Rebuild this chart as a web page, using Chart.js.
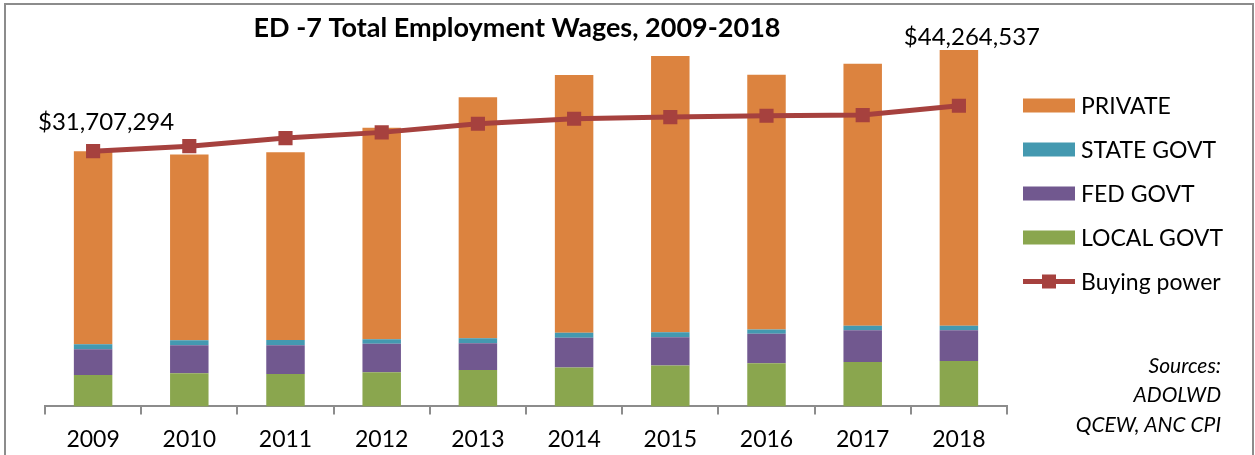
<!DOCTYPE html>
<html>
<head>
<meta charset="utf-8">
<title>ED -7 Total Employment Wages, 2009-2018</title>
<script src="https://cdn.jsdelivr.net/npm/chart.js@4/dist/chart.umd.min.js"></script>
<style>
  html, body { margin: 0; padding: 0; background: #fff; overflow: hidden; }
  #wrap { width: 1255px; height: 455px; overflow: hidden; }
</style>
</head>
<body>
<div id="wrap"><canvas id="chart" width="1255" height="475"></canvas></div>
<script>
// Data (dollars)
const years = ['2009', '2010', '2011', '2012', '2013', '2014', '2015', '2016', '2017', '2018'];
const localGovt = [3910000, 4110000, 4030000, 4230000, 4530000, 4820000, 5070000, 5350000, 5530000, 5650000];
const fedGovt = [3190000, 3490000, 3560000, 3540000, 3310000, 3700000, 3520000, 3660000, 3930000, 3810000];
const stateGovt = [620000, 620000, 670000, 570000, 620000, 620000, 620000, 540000, 550000, 550000];
const privateWages = [23987294, 23080000, 23320000, 26270000, 29930000, 32030000, 34320000, 31660000, 32570000, 34254537];
const buyingPower = [31707294, 32330000, 33330000, 34040000, 35110000, 35730000, 35940000, 36110000, 36190000, 37350000];
const totalLabels = [
  { index: 0, value: 31707294, dy: -21 },
  { index: 9, value: 44264537, dy: -5 },
];
const sources = ['Sources:', 'ADOLWD', 'QCEW, ANC CPI'];

const FONT = 'Lato, "Open Sans", sans-serif';
const colors = {
  local: '#8AA64E',
  fed: '#71588F',
  state: '#4499B0',
  private: '#DC833F',
  line: '#A6413E',
};

// Title, frame, total labels, legend and source note drawn on the canvas
const decorations = {
  id: 'decorations',
  beforeDraw(chart) {
    const { ctx } = chart;
    ctx.save();
    ctx.strokeStyle = '#8c8c8c';
    ctx.lineWidth = 2;
    ctx.strokeRect(5, 4, 1248, 466);
    ctx.restore();
  },
  afterDraw(chart) {
    const { ctx } = chart;
    const x = chart.scales.x;
    const y = chart.scales.y;
    ctx.save();

    // title
    ctx.fillStyle = '#000';
    ctx.font = 'bold 27px ' + FONT;
    ctx.textAlign = 'center';
    ctx.textBaseline = 'alphabetic';
    ctx.fillText('ED -7 Total Employment Wages, 2009-2018', 517, 37);

    // totals above first and last bar
    ctx.font = '24px ' + FONT;
    totalLabels.forEach((l) => {
      const px = x.getPixelForValue(l.index) + 13;
      const py = y.getPixelForValue(l.value) + l.dy;
      ctx.fillText('$' + l.value.toLocaleString('en-US'), px, py);
    });

    // legend
    const items = chart.data.datasets.slice(0, 4).reverse().concat(chart.data.datasets[4]);
    ctx.font = '23px ' + FONT;
    ctx.textAlign = 'left';
    ctx.textBaseline = 'middle';
    items.forEach((ds, i) => {
      const cy = 105.5 + i * 44;
      if (ds.type === 'line') {
        ctx.strokeStyle = ds.borderColor;
        ctx.lineWidth = 5;
        ctx.beginPath();
        ctx.moveTo(1023, cy);
        ctx.lineTo(1075, cy);
        ctx.stroke();
        ctx.fillStyle = ds.pointBackgroundColor;
        ctx.fillRect(1042, cy - 7, 14, 14);
      } else {
        ctx.fillStyle = ds.backgroundColor;
        ctx.fillRect(1023, cy - 7, 52, 14);
      }
      ctx.fillStyle = '#000';
      ctx.fillText(ds.label, 1081, cy + 1);
    });

    // source note
    ctx.font = 'italic 21px ' + FONT;
    ctx.textAlign = 'right';
    sources.forEach((s, i) => {
      ctx.fillText(s, 1221, 366 + i * 29.5);
    });
    ctx.restore();
  },
};

const barStyle = { type: 'bar', borderWidth: 0, barPercentage: 0.4, categoryPercentage: 1, order: 2 };

new Chart(document.getElementById('chart'), {
  data: {
    labels: years,
    datasets: [
      { ...barStyle, label: 'LOCAL GOVT', data: localGovt, backgroundColor: colors.local },
      { ...barStyle, label: 'FED GOVT', data: fedGovt, backgroundColor: colors.fed },
      { ...barStyle, label: 'STATE GOVT', data: stateGovt, backgroundColor: colors.state },
      { ...barStyle, label: 'PRIVATE', data: privateWages, backgroundColor: colors.private },
      {
        type: 'line',
        label: 'Buying power',
        data: buyingPower,
        stack: 'bp',
        order: 1,
        borderColor: colors.line,
        borderWidth: 5,
        tension: 0,
        pointStyle: 'rect',
        pointRadius: 10,
        pointBorderWidth: 0,
        pointBackgroundColor: colors.line,
      },
    ],
  },
  options: {
    responsive: false,
    animation: false,
    layout: { padding: { left: 45, right: 248, top: 20, bottom: 11 } },
    plugins: {
      legend: { display: false },
      tooltip: { enabled: false },
    },
    scales: {
      x: {
        stacked: true,
        grid: {
          drawOnChartArea: false,
          drawTicks: true,
          tickLength: 8,
          color: '#8c8c8c',
          lineWidth: 2,
        },
        border: { display: true, color: '#8c8c8c', width: 2 },
        ticks: { color: '#000', font: { family: FONT, size: 23 }, padding: 11, maxRotation: 0 },
      },
      y: {
        stacked: true,
        display: false,
        min: 0,
        max: 48000000,
      },
    },
  },
  plugins: [decorations],
});
</script>
</body>
</html>
